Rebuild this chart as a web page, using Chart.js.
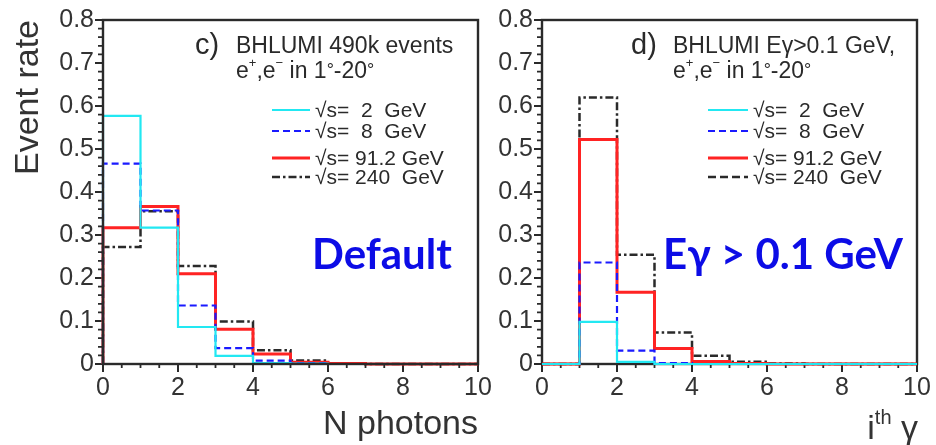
<!DOCTYPE html>
<html>
<head>
<meta charset="utf-8">
<script src="https://cdn.jsdelivr.net/npm/chart.js@4.4.1/dist/chart.umd.min.js"></script>
<style>
  html, body { margin: 0; padding: 0; background: #fff; }
  #wrap { position: relative; width: 936px; height: 445px; overflow: hidden; }
  canvas { position: absolute; top: 0; }
  #cLeft { left: 0; }
  #cRight { left: 490px; }
</style>
</head>
<body>
<div id="wrap">
  <canvas id="cLeft" width="500" height="445"></canvas>
  <canvas id="cRight" width="446" height="445"></canvas>
</div>
<script>
const FONT = '"Liberation Sans", Arial, Helvetica, sans-serif';
const INK = '#2a2a2a';

// bin edges shared by both histograms
const binEdges = [0, 1, 2, 3, 4, 5, 6, 7, 8, 9, 10];
const yTicks = [0, 0.1, 0.2, 0.3, 0.4, 0.5, 0.6, 0.7, 0.8];
const xTicks = [0, 2, 4, 6, 8, 10];

const seriesLabels = ['\u221As=  2  GeV', '\u221As=  8  GeV', '\u221As= 91.2 GeV', '\u221As= 240  GeV'];

// c) number of photons per event
const nph2   = [0.577, 0.317, 0.086, 0.019, 0.002, 0.001, 0, 0, 0, 0];
const nph8   = [0.466, 0.357, 0.136, 0.037, 0.008, 0.002, 0, 0, 0, 0];
const nph912 = [0.317, 0.366, 0.210, 0.081, 0.023, 0.004, 0.001, 0, 0, 0];
const nph240 = [0.272, 0.355, 0.228, 0.099, 0.032, 0.008, 0.002, 0, 0, 0];

// d) i-th photon with E_gamma > 0.1 GeV
const ith2   = [0, 0.098, 0.005, 0, 0, 0, 0, 0, 0, 0];
const ith8   = [0, 0.236, 0.031, 0.002, 0, 0, 0, 0, 0, 0];
const ith912 = [0, 0.522, 0.167, 0.036, 0.006, 0.001, 0, 0, 0, 0];
const ith240 = [0, 0.620, 0.254, 0.073, 0.019, 0.005, 0.001, 0, 0, 0];

const styles = [
  { color: '#22e8f2', width: 2.2, dash: [] },
  { color: '#1a1aff', width: 2.2, dash: [7, 4] },
  { color: '#ff2323', width: 3, dash: [] },
  { color: '#2a2a2a', width: 2.5, dash: [8, 3, 2.5, 3] }
];

// step outline, starting from zero at the first edge
function histPoints(vals) {
  const pts = [{ x: binEdges[0], y: 0 }];
  vals.forEach((v, i) => pts.push({ x: binEdges[i], y: v }));
  pts.push({ x: binEdges[vals.length], y: 0 });
  return pts;
}

function drawRich(ctx, x, y, parts) {
  parts.forEach(p => {
    ctx.font = (p.w || 'normal') + ' ' + p.s + 'px ' + (p.f || FONT);
    ctx.fillText(p.t, x, y + (p.dy || 0));
    x += ctx.measureText(p.t).width;
  });
  return x;
}

function richWidth(ctx, parts) {
  let w = 0;
  parts.forEach(p => {
    ctx.font = (p.w || 'normal') + ' ' + p.s + 'px ' + (p.f || FONT);
    w += ctx.measureText(p.t).width;
  });
  return w;
}

const angleLine = [
  { t: 'e', s: 23 }, { t: '+', s: 13, dy: -11 }, { t: ',e', s: 23 }, { t: '\u2212', s: 13, dy: -11 },
  { t: ' in 1', s: 23 }, { t: '\u00B0', s: 18, dy: -2 }, { t: '-20', s: 23 }, { t: '\u00B0', s: 18, dy: -2 }
];

// minor ticks + frame + texts, per panel
function panelPlugin(cfg) {
  return {
    id: 'panel_' + cfg.name,
    beforeDatasetsDraw(chart) { if (!cfg.frameOnTop) drawFrame(chart); },
    afterDatasetsDraw(chart) { if (cfg.frameOnTop) drawFrame(chart); },
    afterDraw(chart) {
      const ctx = chart.ctx;
      const ox = cfg.ox;
      ctx.save();
      ctx.fillStyle = INK;
      ctx.textBaseline = 'alphabetic';
      ctx.textAlign = 'left';
      // header
      drawRich(ctx, cfg.tagX - ox, 54, [{ t: cfg.tag, s: 29 }]);
      drawRich(ctx, cfg.headX - ox, 53, [{ t: cfg.head, s: 23 }]);
      drawRich(ctx, cfg.headX - ox, 78, angleLine);
      // legend
      const rows = [110, 131, 158, 177];
      rows.forEach((ry, i) => {
        const st = styles[i];
        const dash = (i === 3 && cfg.legendDash) ? cfg.legendDash : st.dash;
        ctx.strokeStyle = st.color;
        ctx.lineWidth = st.width;
        ctx.setLineDash(dash);
        ctx.beginPath();
        ctx.moveTo(cfg.legX0 - ox, ry);
        ctx.lineTo(cfg.legX1 - ox, ry);
        ctx.stroke();
        ctx.setLineDash([]);
        ctx.fillStyle = INK;
        ctx.font = '21px ' + FONT;
        ctx.fillText(seriesLabels[i], cfg.legX1 + 5 - ox, ry + 7);
      });
      // big blue overlay label
      ctx.fillStyle = '#0c0ce6';
      ctx.font = 'bold 42px Lato, "Open Sans", sans-serif';
      ctx.fillText(cfg.big, cfg.bigX - ox, 269);
      // custom x title (superscript) for right panel
      if (cfg.xTitleParts) {
        ctx.fillStyle = '#333';
        const w = richWidth(ctx, cfg.xTitleParts);
        drawRich(ctx, chart.chartArea.right + 1 - w, 439, cfg.xTitleParts);
      }
      ctx.restore();
    }
  };
}

function drawFrame(chart) {
  const { ctx, chartArea: a, scales: { x, y } } = chart;
  ctx.save();
  ctx.strokeStyle = INK;
  // minor ticks
  ctx.lineWidth = 1.8;
  ctx.beginPath();
  for (let k = 0; k <= 40; k++) {
    if (k % 5 === 0) continue;
    const py = y.getPixelForValue(k * 0.02);
    ctx.moveTo(a.left, py);
    ctx.lineTo(a.left - 5, py);
  }
  for (let k = 0; k <= 20; k++) {
    if (k % 4 === 0) continue;
    const px = x.getPixelForValue(k * 0.5);
    ctx.moveTo(px, a.bottom);
    ctx.lineTo(px, a.bottom + 4);
  }
  ctx.stroke();
  ctx.lineWidth = 2.4;
  ctx.strokeRect(a.left, a.top, a.right - a.left, a.bottom - a.top);
  ctx.restore();
}

function makeChart(canvasId, valueSets, cfg) {
  const datasets = valueSets.map((vals, i) => ({
    label: seriesLabels[i],
    data: histPoints(vals),
    borderColor: styles[i].color,
    borderWidth: styles[i].width,
    borderDash: styles[i].dash,
    stepped: true,
    pointRadius: 0,
    fill: false,
    clip: false
  }));
  return new Chart(document.getElementById(canvasId), {
    type: 'line',
    data: { datasets },
    plugins: [panelPlugin(cfg)],
    options: {
      responsive: false,
      animation: false,
      events: [],
      layout: { padding: { left: 0, right: cfg.padRight, top: 20, bottom: 0 } },
      plugins: { legend: { display: false }, tooltip: { enabled: false } },
      scales: {
        x: {
          type: 'linear', min: 0, max: 10,
          afterBuildTicks: (s) => { s.ticks = xTicks.map(v => ({ value: v })); },
          afterFit: (s) => { s.height = 81; s.paddingLeft = 0; s.paddingRight = 0; },
          ticks: { font: { family: FONT, size: 25 }, color: '#333', padding: 1, maxRotation: 0 },
          grid: { drawOnChartArea: false, tickLength: 8, color: INK, lineWidth: 2 },
          border: { color: INK, width: 2 },
          title: {
            display: !!cfg.xTitle, text: cfg.xTitle, align: 'end', color: '#333',
            font: { family: FONT, size: 34 }, padding: { top: 0, bottom: 0 }
          }
        },
        y: {
          type: 'linear', min: 0, max: 0.8,
          afterBuildTicks: (s) => { s.ticks = yTicks.map(v => ({ value: v })); },
          afterFit: (s) => { s.width = cfg.yWidth; s.paddingTop = 0; s.paddingBottom = 0; },
          ticks: { font: { family: FONT, size: 25 }, color: '#333', padding: 1 },
          grid: { drawOnChartArea: false, tickLength: 8, color: INK, lineWidth: 2 },
          border: { color: INK, width: 2 },
          title: {
            display: !!cfg.yTitle, text: cfg.yTitle, align: 'end', color: '#333',
            font: { family: FONT, size: 34 }, padding: { top: 8, bottom: 0 }
          }
        }
      }
    }
  });
}

makeChart('cLeft', [nph2, nph8, nph912, nph240], {
  name: 'c', ox: 0, yWidth: 103, padRight: 22, yTitle: 'Event rate', xTitle: 'N photons',
  frameOnTop: true,
  tag: 'c)', tagX: 195, head: 'BHLUMI 490k events', headX: 236,
  legX0: 272, legX1: 310, big: 'Default', bigX: 312
});

makeChart('cRight', [ith2, ith8, ith912, ith240], {
  name: 'd', ox: 490, yWidth: 52, padRight: 19, yTitle: '', xTitle: '',
  frameOnTop: false, legendDash: [8, 4],
  tag: 'd)', tagX: 631, head: 'BHLUMI E\u03B3>0.1 GeV,', headX: 673,
  legX0: 708, legX1: 748, big: 'E\u03B3 > 0.1 GeV', bigX: 663,
  xTitleParts: [{ t: 'i', s: 34 }, { t: 'th', s: 20, dy: -15 }, { t: ' \u03B3', s: 34 }]
});
</script>
</body>
</html>
